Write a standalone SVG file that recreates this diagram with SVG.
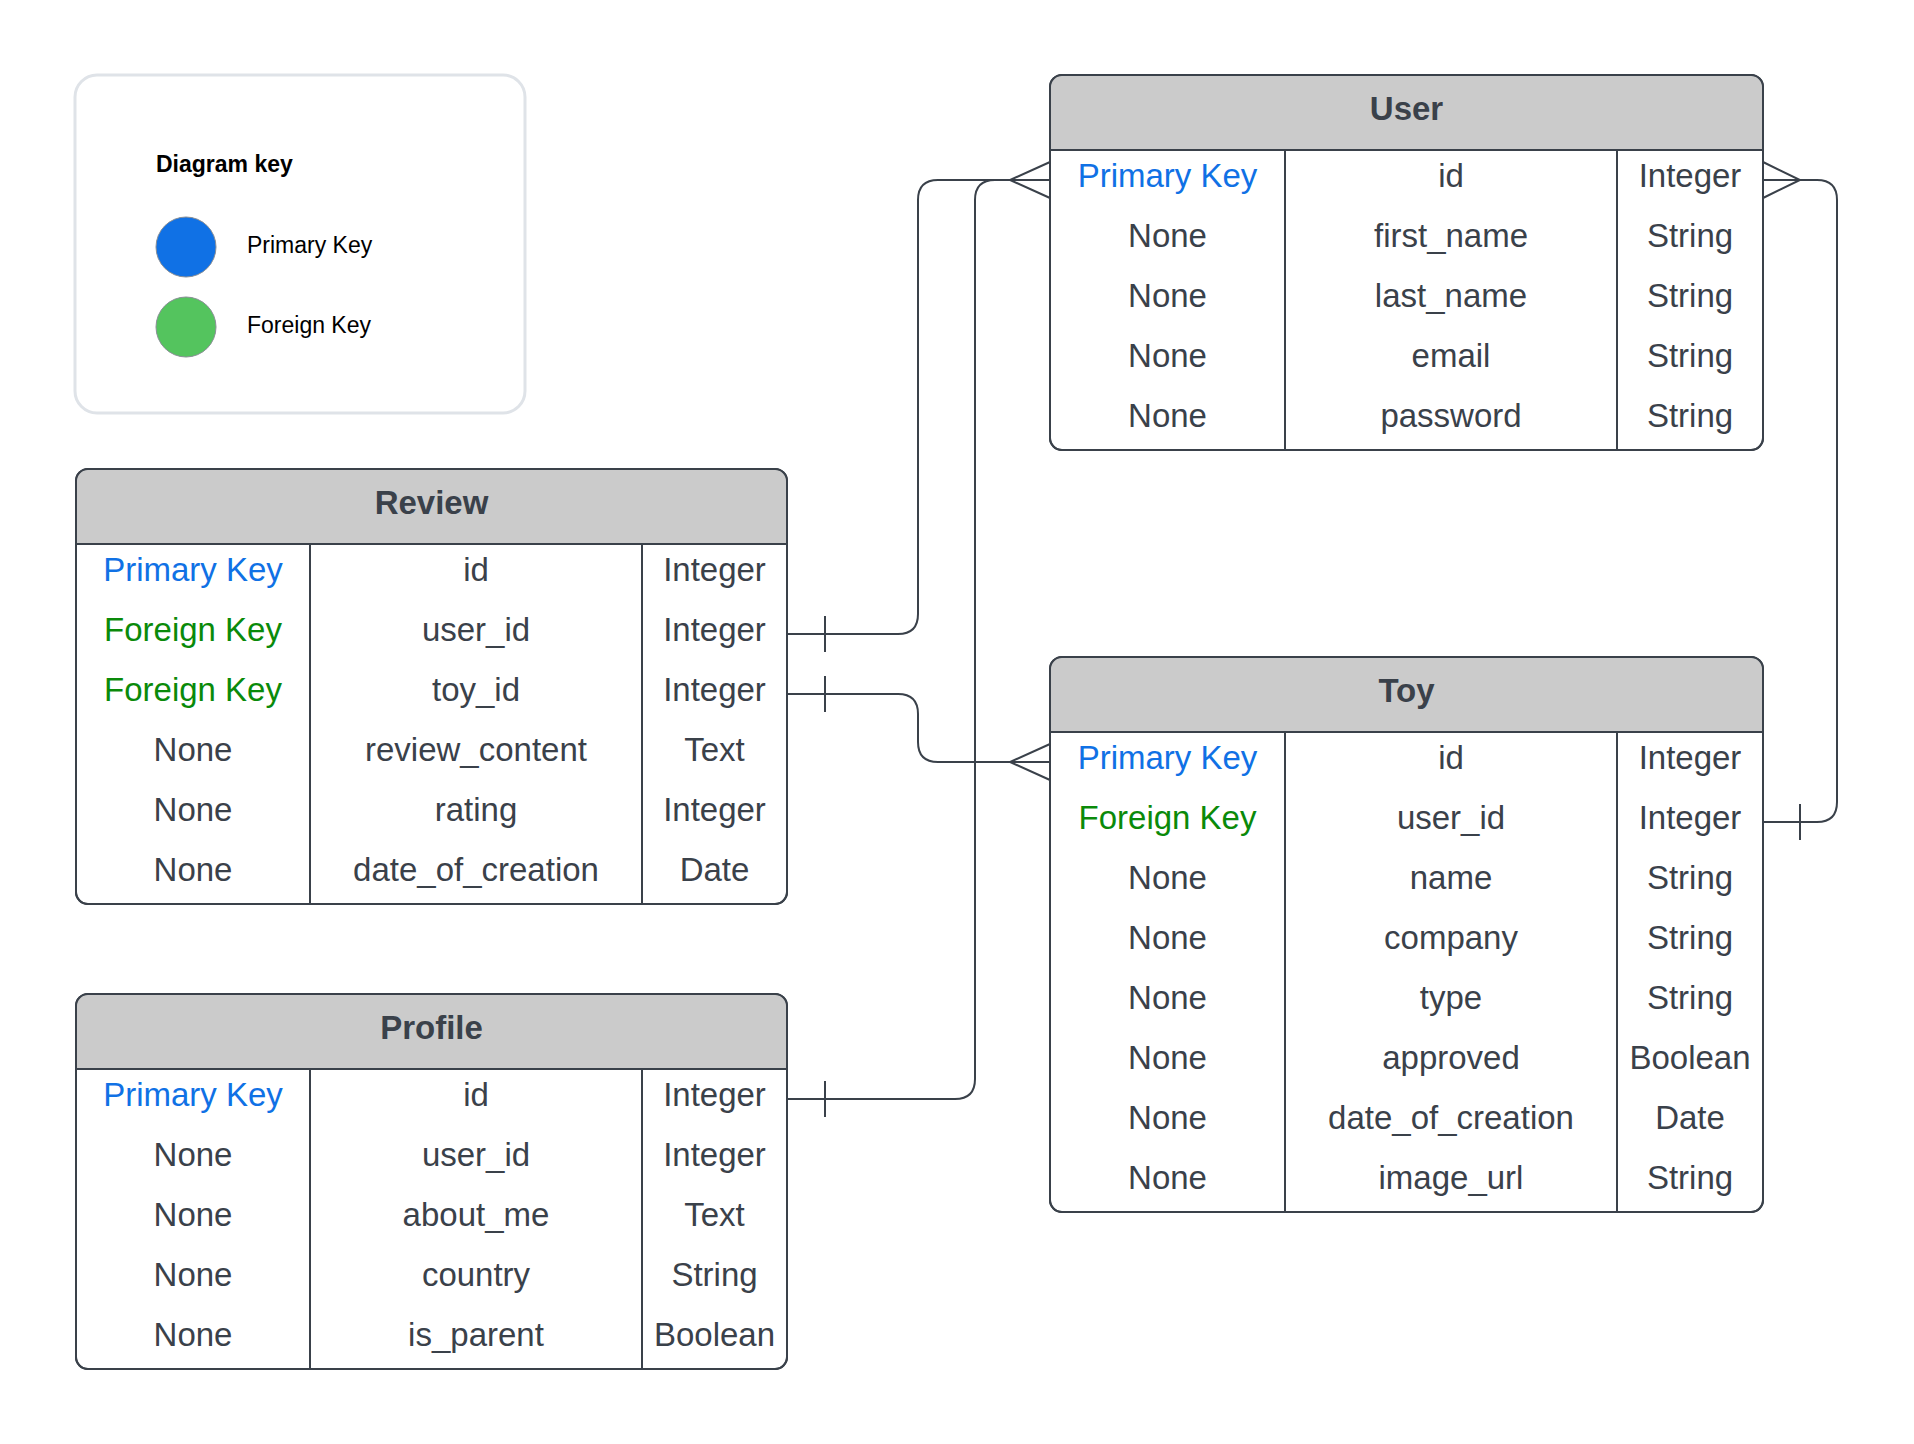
<svg xmlns="http://www.w3.org/2000/svg" width="1914" height="1444" viewBox="0 0 1914 1444">
  <style>
    text { font-family: "Liberation Sans", Arial, sans-serif; }
    .legend-box { fill: #ffffff; stroke: #dfe3e8; stroke-width: 3; }
    .legend-title { font-size: 23px; font-weight: bold; fill: #000000; }
    .legend-label { font-size: 23px; fill: #000000; }
    .frame { fill: #ffffff; stroke: #3a414a; stroke-width: 2; }
    .head { fill: #cbcbcb; }
    .rule { stroke: #3a414a; stroke-width: 2; fill: none; }
    .title { font-size: 33px; font-weight: bold; fill: #3a414a; text-anchor: middle; }
    .cell { font-size: 33px; fill: #3a414a; text-anchor: middle; }
    .pk { fill: #1071e5; }
    .fk { fill: #0a8a0a; }
    .wire { stroke: #3a414a; stroke-width: 2; fill: none; }
  </style>

  <!-- legend -->
  <g id="legend">
    <rect class="legend-box" x="75" y="75" width="450" height="338" rx="22"/>
    <text class="legend-title" x="156" y="172">Diagram key</text>
    <circle cx="186" cy="247" r="30" fill="#1071e5" stroke="#8a8f96" stroke-width="1"/>
    <text class="legend-label" x="247" y="253">Primary Key</text>
    <circle cx="186" cy="327" r="30" fill="#54c45e" stroke="#8a8f96" stroke-width="1"/>
    <text class="legend-label" x="247" y="333">Foreign Key</text>
  </g>

  <!-- relationship lines -->
  <g id="connectors">
    <!-- Review.user_id -> User.id -->
    <path class="wire" d="M787,634 H898 Q918,634 918,614 V200 Q918,180 938,180 H1050"/>
    <path class="wire" d="M825,616 V652"/>
    <!-- Review.toy_id -> Toy.id -->
    <path class="wire" d="M787,694 H898 Q918,694 918,714 V742 Q918,762 938,762 H1050"/>
    <path class="wire" d="M825,676 V712"/>
    <path class="wire" d="M1050,744 L1010,762 L1050,780"/>
    <!-- Profile.id -> User.id -->
    <path class="wire" d="M787,1099 H955 Q975,1099 975,1079 V200 Q975,180 995,180 H1050"/>
    <path class="wire" d="M825,1081 V1117"/>
    <path class="wire" d="M1050,162 L1010,180 L1050,198"/>
    <!-- Toy.user_id -> User.id -->
    <path class="wire" d="M1763,822 H1817 Q1837,822 1837,802 V200 Q1837,180 1817,180 H1763"/>
    <path class="wire" d="M1800,804 V840"/>
    <path class="wire" d="M1763,162 L1800,180 L1763,198"/>
  </g>

  <!-- User table -->
  <g id="user">
    <rect class="frame" x="1050" y="75" width="713" height="375" rx="12"/>
    <path class="head" d="M1051,150 V87 Q1051,76 1062,76 H1751 Q1762,76 1762,87 V150 Z"/>
    <rect class="frame" x="1050" y="75" width="713" height="375" rx="12" fill="none" style="fill:none"/>
    <path class="rule" d="M1050,150 H1763 M1285,150 V450 M1617,150 V450"/>
    <text class="title" x="1406.5" y="120">User</text>
    <text class="cell pk" x="1167.5" y="187">Primary Key</text>
    <text class="cell" x="1167.5" y="247">None</text>
    <text class="cell" x="1167.5" y="307">None</text>
    <text class="cell" x="1167.5" y="367">None</text>
    <text class="cell" x="1167.5" y="427">None</text>
    <text class="cell" x="1451" y="187">id</text>
    <text class="cell" x="1451" y="247">first_name</text>
    <text class="cell" x="1451" y="307">last_name</text>
    <text class="cell" x="1451" y="367">email</text>
    <text class="cell" x="1451" y="427">password</text>
    <text class="cell" x="1690" y="187">Integer</text>
    <text class="cell" x="1690" y="247">String</text>
    <text class="cell" x="1690" y="307">String</text>
    <text class="cell" x="1690" y="367">String</text>
    <text class="cell" x="1690" y="427">String</text>
  </g>

  <!-- Review table -->
  <g id="review">
    <rect class="frame" x="76" y="469" width="711" height="435" rx="12"/>
    <path class="head" d="M77,544 V481 Q77,470 88,470 H775 Q786,470 786,481 V544 Z"/>
    <rect class="frame" x="76" y="469" width="711" height="435" rx="12" style="fill:none"/>
    <path class="rule" d="M76,544 H787 M310,544 V904 M642,544 V904"/>
    <text class="title" x="431.5" y="514">Review</text>
    <text class="cell pk" x="193" y="581">Primary Key</text>
    <text class="cell fk" x="193" y="641">Foreign Key</text>
    <text class="cell fk" x="193" y="701">Foreign Key</text>
    <text class="cell" x="193" y="761">None</text>
    <text class="cell" x="193" y="821">None</text>
    <text class="cell" x="193" y="881">None</text>
    <text class="cell" x="476" y="581">id</text>
    <text class="cell" x="476" y="641">user_id</text>
    <text class="cell" x="476" y="701">toy_id</text>
    <text class="cell" x="476" y="761">review_content</text>
    <text class="cell" x="476" y="821">rating</text>
    <text class="cell" x="476" y="881">date_of_creation</text>
    <text class="cell" x="714.5" y="581">Integer</text>
    <text class="cell" x="714.5" y="641">Integer</text>
    <text class="cell" x="714.5" y="701">Integer</text>
    <text class="cell" x="714.5" y="761">Text</text>
    <text class="cell" x="714.5" y="821">Integer</text>
    <text class="cell" x="714.5" y="881">Date</text>
  </g>

  <!-- Profile table -->
  <g id="profile">
    <rect class="frame" x="76" y="994" width="711" height="375" rx="12"/>
    <path class="head" d="M77,1069 V1006 Q77,995 88,995 H775 Q786,995 786,1006 V1069 Z"/>
    <rect class="frame" x="76" y="994" width="711" height="375" rx="12" style="fill:none"/>
    <path class="rule" d="M76,1069 H787 M310,1069 V1369 M642,1069 V1369"/>
    <text class="title" x="431.5" y="1039">Profile</text>
    <text class="cell pk" x="193" y="1106">Primary Key</text>
    <text class="cell" x="193" y="1166">None</text>
    <text class="cell" x="193" y="1226">None</text>
    <text class="cell" x="193" y="1286">None</text>
    <text class="cell" x="193" y="1346">None</text>
    <text class="cell" x="476" y="1106">id</text>
    <text class="cell" x="476" y="1166">user_id</text>
    <text class="cell" x="476" y="1226">about_me</text>
    <text class="cell" x="476" y="1286">country</text>
    <text class="cell" x="476" y="1346">is_parent</text>
    <text class="cell" x="714.5" y="1106">Integer</text>
    <text class="cell" x="714.5" y="1166">Integer</text>
    <text class="cell" x="714.5" y="1226">Text</text>
    <text class="cell" x="714.5" y="1286">String</text>
    <text class="cell" x="714.5" y="1346">Boolean</text>
  </g>

  <!-- Toy table -->
  <g id="toy">
    <rect class="frame" x="1050" y="657" width="713" height="555" rx="12"/>
    <path class="head" d="M1051,732 V669 Q1051,658 1062,658 H1751 Q1762,658 1762,669 V732 Z"/>
    <rect class="frame" x="1050" y="657" width="713" height="555" rx="12" style="fill:none"/>
    <path class="rule" d="M1050,732 H1763 M1285,732 V1212 M1617,732 V1212"/>
    <text class="title" x="1406.5" y="702">Toy</text>
    <text class="cell pk" x="1167.5" y="769">Primary Key</text>
    <text class="cell fk" x="1167.5" y="829">Foreign Key</text>
    <text class="cell" x="1167.5" y="889">None</text>
    <text class="cell" x="1167.5" y="949">None</text>
    <text class="cell" x="1167.5" y="1009">None</text>
    <text class="cell" x="1167.5" y="1069">None</text>
    <text class="cell" x="1167.5" y="1129">None</text>
    <text class="cell" x="1167.5" y="1189">None</text>
    <text class="cell" x="1451" y="769">id</text>
    <text class="cell" x="1451" y="829">user_id</text>
    <text class="cell" x="1451" y="889">name</text>
    <text class="cell" x="1451" y="949">company</text>
    <text class="cell" x="1451" y="1009">type</text>
    <text class="cell" x="1451" y="1069">approved</text>
    <text class="cell" x="1451" y="1129">date_of_creation</text>
    <text class="cell" x="1451" y="1189">image_url</text>
    <text class="cell" x="1690" y="769">Integer</text>
    <text class="cell" x="1690" y="829">Integer</text>
    <text class="cell" x="1690" y="889">String</text>
    <text class="cell" x="1690" y="949">String</text>
    <text class="cell" x="1690" y="1009">String</text>
    <text class="cell" x="1690" y="1069">Boolean</text>
    <text class="cell" x="1690" y="1129">Date</text>
    <text class="cell" x="1690" y="1189">String</text>
  </g>
</svg>
